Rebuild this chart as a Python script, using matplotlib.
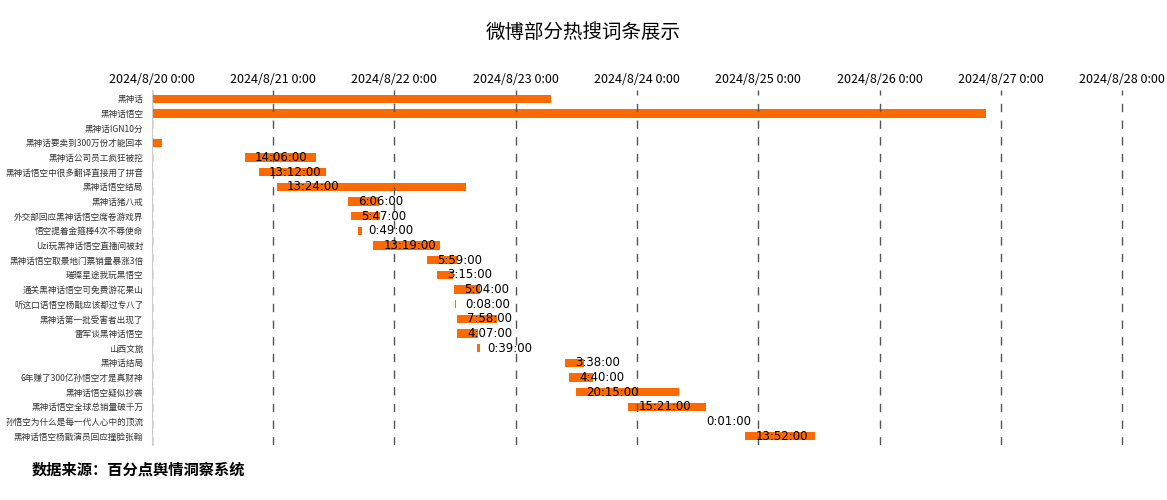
import pandas as pd
import matplotlib.pyplot as plt

plt.rcParams["font.family"] = ["Noto Sans CJK SC", "DejaVu Sans"]

topics = [
    "黑神话", "黑神话悟空", "黑神话IGN10分", "黑神话要卖到300万份才能回本",
    "黑神话公司员工疯狂被挖", "黑神话悟空中很多翻译直接用了拼音", "黑神话悟空结局",
    "黑神话猪八戒", "外交部回应黑神话悟空席卷游戏界", "悟空提着金箍棒4次不辱使命",
    "Uzi玩黑神话悟空直播间被封", "黑神话悟空取景地门票销量暴涨3倍", "璀璨星途我玩黑悟空",
    "通关黑神话悟空可免费游花果山", "听这口语悟空杨戬应该都过专八了", "黑神话第一批受害者出现了",
    "雷军谈黑神话悟空", "山西文旅", "黑神话结局", "6年赚了300亿孙悟空才是真财神",
    "黑神话悟空疑似抄袭", "黑神话悟空全球总销量破千万", "孙悟空为什么是每一代人心中的顶流",
    "黑神话悟空杨戬演员回应撞脸张翰",
]
starts = [
    "2024-08-20 00:00", "2024-08-20 00:00", "2024-08-20 00:00", "2024-08-20 00:00",
    "2024-08-20 18:24", "2024-08-20 21:12", "2024-08-21 00:45", "2024-08-21 14:48",
    "2024-08-21 15:24", "2024-08-21 16:48", "2024-08-21 19:48", "2024-08-22 06:30",
    "2024-08-22 08:24", "2024-08-22 11:48", "2024-08-22 12:00", "2024-08-22 12:24",
    "2024-08-22 12:24", "2024-08-22 16:24", "2024-08-23 09:48", "2024-08-23 10:36",
    "2024-08-23 12:00", "2024-08-23 22:18", "2024-08-24 11:42", "2024-08-24 21:24",
]
durations = [
    "3 days 07:00:00", "6 days 21:00:00", "0 days 00:00:00", "0 days 02:00:00",
    "0 days 14:06:00", "0 days 13:12:00", "1 days 13:24:00", "0 days 06:06:00",
    "0 days 05:47:00", "0 days 00:49:00", "0 days 13:19:00", "0 days 05:59:00",
    "0 days 03:15:00", "0 days 05:04:00", "0 days 00:08:00", "0 days 07:58:00",
    "0 days 04:07:00", "0 days 00:39:00", "0 days 03:38:00", "0 days 04:40:00",
    "0 days 20:15:00", "0 days 15:21:00", "0 days 00:01:00", "0 days 13:52:00",
]
show_label = [False] * 4 + [True] * 20

origin = pd.Timestamp("2024-08-20 00:00")
start_h = [(pd.Timestamp(s) - origin) / pd.Timedelta(hours=1) for s in starts]
dur = [pd.Timedelta(d) for d in durations]
dur_h = [d / pd.Timedelta(hours=1) for d in dur]

fig = plt.figure(figsize=(11.67, 5), dpi=100)
ax = fig.add_axes([0.130, 0.11, 0.844, 0.71])
y = list(range(len(topics)))
ax.barh(y, dur_h, left=start_h, height=0.55, color="#ff6a00")
for i in y:
    if show_label[i]:
        c = dur[i].components
        txt = f"{c.hours}:{c.minutes:02d}:00"
        ax.text(start_h[i] + 2, i, txt, va="center", ha="left", fontsize=8.5,
                fontfamily="DejaVu Sans")

ax.set_yticks(y)
ax.set_yticklabels(topics, fontsize=6.2, color="#333333", style="italic")
ax.set_ylim(len(topics) - 0.4, -0.6)
ticks = [24 * d for d in range(9)]
ax.set_xticks(ticks)
ax.set_xticklabels([f"2024/8/{20 + d} 0:00" for d in range(9)], fontsize=9)
ax.set_xlim(0, 8.12 * 24)
ax.xaxis.tick_top()
ax.tick_params(axis="x", length=0, pad=3)
ax.tick_params(axis="y", length=0, pad=6)
ax.grid(True, axis="x", linestyle=(0, (6, 6)), color="#555555", linewidth=1)
for s in ["top", "right", "bottom"]:
    ax.spines[s].set_visible(False)
ax.spines["left"].set_color("#cccccc")

fig.text(0.5, 0.925, "微博部分热搜词条展示", ha="center", fontsize=14)
fig.text(0.027, 0.05, "数据来源：百分点舆情洞察系统", ha="left", fontsize=11, fontweight="bold")
fig.savefig("out.png", dpi=100)
